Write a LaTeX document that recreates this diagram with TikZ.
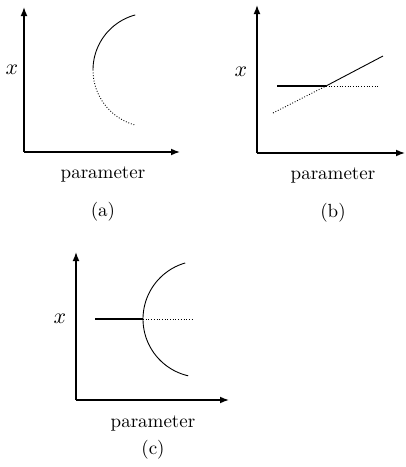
\documentclass[tikz,border=0pt]{standalone}
\usetikzlibrary{arrows.meta}
\begin{document}
\begin{tikzpicture}[x=0.5pt,y=-0.5pt,
  axis/.style={line width=0.65pt,-{Latex[length=4.5pt,width=3.4pt]}},
  curve/.style={line width=0.45pt},
  dots/.style={line width=0.45pt,dash pattern=on 0.45pt off 0.9pt},
  thick line/.style={line width=0.85pt},
  lbl/.style={font=\fontsize{9.5}{11}\selectfont,inner sep=0pt},
  xl/.style={font=\fontsize{10.5}{12}\selectfont,inner sep=0pt}]
\useasboundingbox (0,0) rectangle (406,467);
% ---------- (a)
\coordinate (aO) at (24,152);
\coordinate (aY) at (24,7);
\coordinate (aX) at (180,152);
\draw[axis] (aO) -- (aY);
\draw[axis] (aO) -- (aX);
\node[xl] (ax) at (12,70) {$x$};
\draw[curve] plot[domain=180:255,samples=40,smooth] ({150+57*cos(\x)},{70+57*sin(\x)});
\draw[dots] plot[domain=106:180,samples=40,smooth] ({150+57*cos(\x)},{70+57*sin(\x)});
\node[lbl] (ap) at (103,174) {parameter};
\node[lbl] (al) at (103,212) {(a)};
% ---------- (b)
\coordinate (bO) at (257,153);
\coordinate (bY) at (257,5);
\coordinate (bX) at (405,153);
\draw[axis] (bO) -- (bY);
\draw[axis] (bO) -- (bX);
\node[xl] (bx) at (241,72) {$x$};
\coordinate (bh1) at (277,86);
\coordinate (bm) at (326,86);
\coordinate (bh2) at (378,86);
\coordinate (bs1) at (273,113);
\coordinate (bs2) at (383,56);
\draw[thick line] (bh1) -- (bm);
\draw[dots] (bm) -- (bh2);
\draw[dots] (bs1) -- (bm);
\draw[curve] (bm) -- (bs2);
\node[lbl] (bp) at (333,175) {parameter};
\node[lbl] (bl) at (333,213) {(b)};
% ---------- (c)
\coordinate (cO) at (76,400);
\coordinate (cY) at (76,252);
\coordinate (cX) at (229,400);
\draw[axis] (cO) -- (cY);
\draw[axis] (cO) -- (cX);
\node[xl] (cx) at (60,319) {$x$};
\coordinate (ch1) at (95,319);
\coordinate (cm) at (143,319);
\coordinate (ch2) at (193,319);
\draw[thick line] (ch1) -- (cm);
\draw[dots] (cm) -- (ch2);
\draw[curve] plot[domain=103:254,samples=60,smooth] ({201.3+58.3*cos(\x)},{319+58.3*sin(\x)});
\node[lbl] (cp) at (153,423) {parameter};
\node[lbl] (cl) at (153,450) {(c)};
\end{tikzpicture}
\end{document}
